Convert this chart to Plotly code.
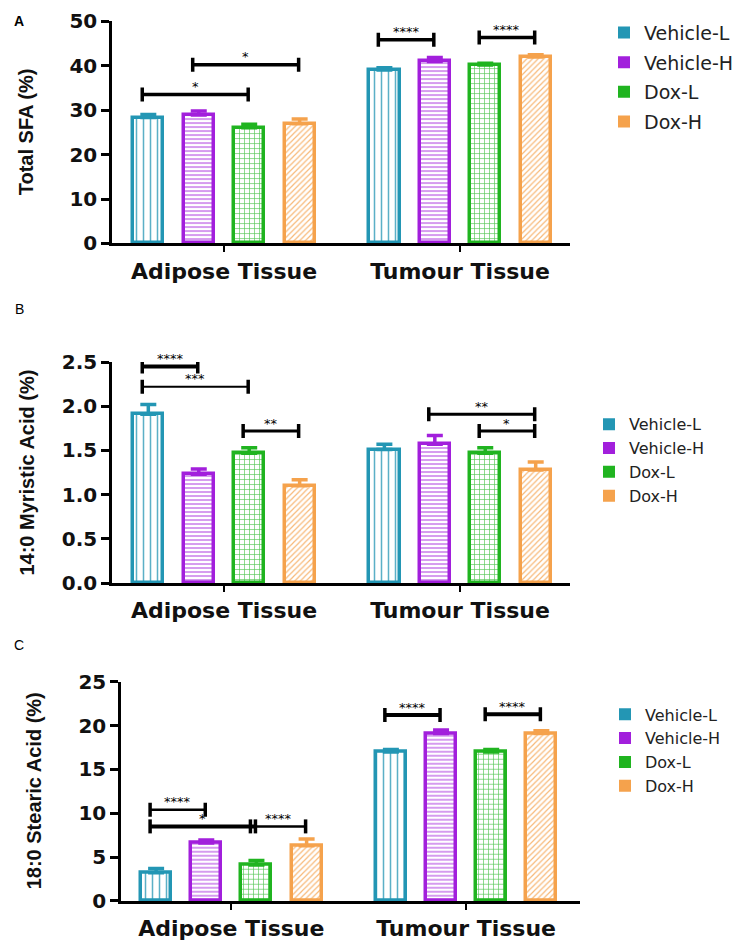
import plotly.graph_objects as go

# ---------------- data ----------------
groups = ["Adipose Tissue", "Tumour Tissue"]
series = ["Vehicle-L", "Vehicle-H", "Dox-L", "Dox-H"]

# Panel A: Total SFA (%)  [adipose, tumour] x [Vehicle-L, Vehicle-H, Dox-L, Dox-H]
sfa_mean = [[28.3, 28.9, 26.0, 26.9], [39.0, 40.9, 40.1, 41.9]]
sfa_err = [[0.7, 0.9, 0.8, 1.1], [0.5, 0.9, 0.4, 0.5]]
sfa_ticks = [0, 10, 20, 30, 40, 50]
sfa_ticktext = ["0", "10", "20", "30", "40", "50"]
# (group, series i, series j, level, label)
sfa_sig = [(0, 0, 2, 33.5, "*"), (0, 1, 3, 40.2, "*"),
           (1, 0, 1, 45.8, "****"), (1, 2, 3, 46.3, "****")]

# Panel B: 14:0 Myristic Acid (%)
myr_mean = [[1.91, 1.23, 1.47, 1.10], [1.51, 1.57, 1.47, 1.28]]
myr_err = [[0.11, 0.06, 0.06, 0.07], [0.06, 0.10, 0.06, 0.09]]
myr_ticks = [0.0, 0.5, 1.0, 1.5, 2.0, 2.5]
myr_ticktext = ["0.0", "0.5", "1.0", "1.5", "2.0", "2.5"]
myr_sig = [(0, 0, 1, 2.45, "****"), (0, 0, 2, 2.22, "***"), (0, 2, 3, 1.72, "**"),
           (1, 1, 3, 1.91, "**"), (1, 2, 3, 1.72, "*")]

# Panel C: 18:0 Stearic Acid (%)
ste_mean = [[3.2, 6.6, 4.1, 6.3], [17.0, 19.1, 17.0, 19.1]]
ste_err = [[0.5, 0.35, 0.5, 0.75], [0.26, 0.4, 0.26, 0.3]]
ste_ticks = [0, 5, 10, 15, 20, 25]
ste_ticktext = ["0", "5", "10", "15", "20", "25"]
ste_sig = [(0, 0, 1, 10.4, "****"), (0, 0, 2, 8.5, "*"), (0, 2, 3, 8.5, "****"),
           (1, 0, 1, 21.2, "****"), (1, 2, 3, 21.3, "****")]

panel_letters = ["A", "B", "C"]
y_titles = ["Total SFA (%)", "14:0 Myristic Acid (%)", "18:0 Stearic Acid (%)"]

# ---------------- style ----------------
W, H = 744, 941
COLORS = ["#2396b4", "#a21fdc", "#20b420", "#f5a24c"]
PATTERNS = [dict(shape="|", size=7, solidity=0.22),
            dict(shape="-", size=4, solidity=0.3),
            dict(shape="+", size=5, solidity=0.25),
            dict(shape="/", size=4, solidity=0.3)]
GROUP_STEP = 4.68
BAR_W = 0.6
BOLD = "DejaVu Sans"
ARIAL = "Liberation Sans"
# vertical calibration of the rendered page
Y_SCALE, Y_OFF = 0.973, 11.6

def px_x(p):
    return p / W

def px_y(p):
    return 1 - ((p - Y_OFF) / Y_SCALE) / H

panels = [
    dict(mean=sfa_mean, err=sfa_err, ticks=sfa_ticks, ticktext=sfa_ticktext, sig=sfa_sig,
         ymax=50, xpx=(112, 570), ypx=(244, 20.7), xr=(-0.72, 8.36),
         lw=[3.5, 3.5, 3.5, 3.5], legend=dict(x=604, y=13.2, size=19, gap=2),
         letter=(19, 21, True), title_x=26),
    dict(mean=myr_mean, err=myr_err, ticks=myr_ticks, ticktext=myr_ticktext, sig=myr_sig,
         ymax=2.5, xpx=(112, 570), ypx=(585, 363), xr=(-0.72, 8.36),
         lw=[4, 2, 3, 3, 3], legend=dict(x=589, y=408.5, size=16, gap=0),
         letter=(19, 310, False), title_x=27),
    dict(mean=ste_mean, err=ste_err, ticks=ste_ticks, ticktext=ste_ticktext, sig=ste_sig,
         ymax=25, xpx=(121, 580), ypx=(904, 684), xr=(-0.70, 8.45),
         lw=[2.5, 4, 2.5, 4, 4], legend=dict(x=605, y=699.7, size=16, gap=0),
         letter=(19, 647, False), title_x=34),
]

fig = go.Figure()
shapes = []
annotations = []
layout = {}

for pi, P in enumerate(panels):
    sfx = "" if pi == 0 else str(pi + 1)
    xa, ya = "x" + sfx, "y" + sfx
    leg = "legend" + sfx
    for s, name in enumerate(series):
        xs = [g * GROUP_STEP + s for g in range(len(groups))]
        ys = [P["mean"][g][s] for g in range(len(groups))]
        es = [P["err"][g][s] for g in range(len(groups))]
        fig.add_trace(go.Bar(
            x=xs, y=ys, width=BAR_W, xaxis=xa, yaxis=ya, showlegend=False, legend=leg,
            marker=dict(color="white", line=dict(color=COLORS[s], width=3.5),
                        pattern=dict(fgcolor=COLORS[s], bgcolor="white", fgopacity=0.75,
                                     fillmode="overlay", **PATTERNS[s])),
            error_y=dict(type="data", array=es, arrayminus=[0] * len(es), symmetric=False,
                         color=COLORS[s], thickness=3.5, width=8),
        ))
        # legend swatch
        fig.add_trace(go.Bar(
            x=[None], y=[None], name=name, xaxis=xa, yaxis=ya, legend=leg,
            legendgroup=f"{pi}-{s}",
            marker=dict(color=COLORS[s], line=dict(width=0)),
        ))
    # axes
    layout["xaxis" + sfx] = dict(
        domain=[px_x(P["xpx"][0]), px_x(P["xpx"][1])], anchor=ya, range=list(P["xr"]),
        showline=True, linecolor="black", linewidth=2.5, showgrid=False, zeroline=False,
        tickvals=[g * GROUP_STEP + 1.5 for g in range(len(groups))], ticktext=groups,
        ticks="outside", ticklen=6, tickwidth=2, tickcolor="black",
        tickfont=dict(family=BOLD, size=22, color="#111", weight=700),
    )
    layout["yaxis" + sfx] = dict(
        domain=[px_y(P["ypx"][0]), px_y(P["ypx"][1])], anchor=xa, range=[0, P["ymax"]],
        showline=True, linecolor="black", linewidth=2.5, showgrid=False, zeroline=False,
        tickvals=P["ticks"], ticktext=P["ticktext"],
        ticks="outside", ticklen=8, tickwidth=2.5, tickcolor="black",
        tickfont=dict(family=BOLD, size=20, color="#111", weight=700),
    )
    Lg = P["legend"]
    layout[leg] = dict(x=px_x(Lg["x"]), y=min(px_y(Lg["y"]), 1.0), xanchor="left", yanchor="top",
                       font=dict(family="DejaVu Sans", size=Lg["size"], color="#222"),
                       tracegroupgap=Lg["gap"], bgcolor="rgba(0,0,0,0)")
    # significance brackets
    for k, (g, i, j, lvl, lab) in enumerate(P["sig"]):
        x0 = g * GROUP_STEP + i - 0.12
        x1 = g * GROUP_STEP + j - 0.02
        lw = P["lw"][k]
        shapes.append(dict(type="line", xref=xa, yref=ya, x0=x0, x1=x1, y0=lvl, y1=lvl,
                           line=dict(color="black", width=lw)))
        for xe in (x0, x1):
            shapes.append(dict(type="line", xref=xa, yref=ya, x0=xe, x1=xe,
                               ysizemode="pixel", yanchor=lvl, y0=-7, y1=7,
                               line=dict(color="black", width=3.5)))
        annotations.append(dict(x=(x0 + x1) / 2, y=lvl, xref=xa, yref=ya, text=lab,
                                showarrow=False, yanchor="middle", yshift=8,
                                font=dict(family="DejaVu Sans", size=13, color="black")))
    # y title
    yc = (px_y(P["ypx"][0]) + px_y(P["ypx"][1])) / 2
    annotations.append(dict(x=px_x(P["title_x"]), y=yc, xref="paper", yref="paper",
                            text=y_titles[pi], textangle=-90, showarrow=False,
                            xanchor="center", yanchor="middle",
                            font=dict(family=ARIAL, size=20, color="#111", weight=700)))
    lx, ly, lb = P["letter"]
    annotations.append(dict(x=px_x(lx), y=px_y(ly), xref="paper", yref="paper",
                            text=panel_letters[pi], showarrow=False,
                            xanchor="center", yanchor="middle",
                            font=dict(family=ARIAL, size=14, color="black",
                                      weight=700 if lb else 400)))

fig.update_layout(
    width=W, height=H, margin=dict(l=0, r=0, t=0, b=0),
    paper_bgcolor="white", plot_bgcolor="white",
    barmode="overlay", bargap=0,
    shapes=shapes, annotations=annotations,
    **layout,
)

fig.write_html(
    "out.html",
    config={"displayModeBar": False},
    post_script=("var d=document.getElementById('{plot_id}');"
                 "d.style.position='fixed';d.style.top='0px';d.style.left='0px';"
                 "document.body.style.margin='0';"),
)
